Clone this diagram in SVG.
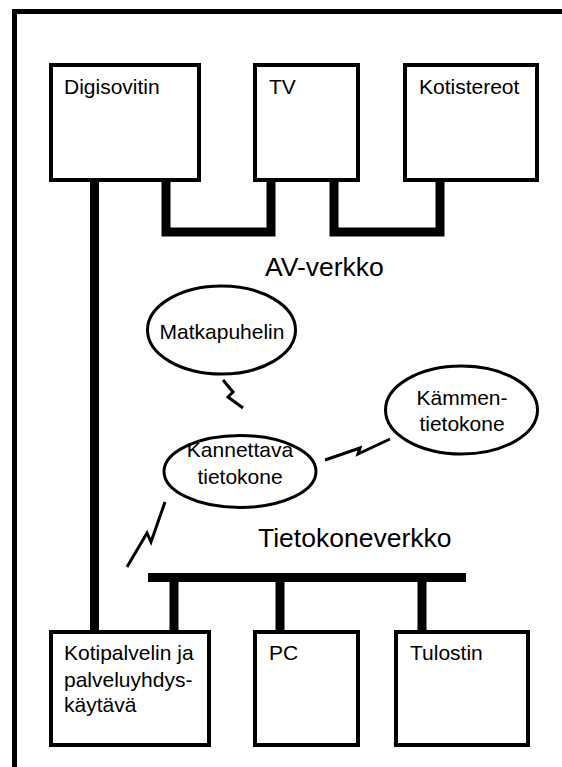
<svg xmlns="http://www.w3.org/2000/svg" width="562" height="767" viewBox="0 0 562 767">
  <style>
    .box { fill: #fff; stroke: #000; stroke-width: 4; }
    .oval { fill: #fff; stroke: #000; stroke-width: 3; }
    .lbl { font-family: "Liberation Sans", Arial, sans-serif; font-size: 21px; fill: #000; }
    .mid { text-anchor: middle; }
    .net { font-family: "Liberation Sans", Arial, sans-serif; font-size: 26.5px; fill: #000; }
    .cable { fill: none; stroke: #000; stroke-width: 9; stroke-linecap: butt; stroke-linejoin: miter; }
    .radio { fill: none; stroke: #000; stroke-width: 3; stroke-linejoin: miter; }
  </style>
  <rect width="562" height="767" fill="#fff"/>

  <!-- outer frame (open to the right and bottom) -->
  <path d="M14.5,767 V11.5 H562" fill="none" stroke="#000" stroke-width="5"/>

  <g id="connectors">
    <!-- AV links -->
    <path class="cable" d="M166,180 V232 H271 V180"/>
    <path class="cable" d="M334,180 V232 H440 V180"/>
    <!-- set-top box down to home server -->
    <path class="cable" d="M94.5,180 V632"/>
    <!-- computer network bus -->
    <path class="cable" d="M148,577.5 H466"/>
    <path class="cable" d="M174,577 V632"/>
    <path class="cable" d="M280,577 V632"/>
    <path class="cable" d="M422,577 V632"/>
    <!-- wireless links -->
    <polyline class="radio" points="223,380 233,392 228,397 243,408"/>
    <polyline class="radio" points="325,460 360,448 358,454 390,439"/>
    <polyline class="radio" points="127,567 147,533 151,542 165,502"/>
  </g>

  <text class="net" x="265" y="276">AV-verkko</text>
  <text class="net" x="258" y="547">Tietokoneverkko</text>

  <g id="digisovitin">
    <rect class="box" x="51" y="65" width="148" height="115"/>
    <text class="lbl" x="64" y="94">Digisovitin</text>
  </g>
  <g id="tv">
    <rect class="box" x="255" y="65" width="103" height="115"/>
    <text class="lbl" x="269" y="94">TV</text>
  </g>
  <g id="kotistereot">
    <rect class="box" x="405" y="65" width="132" height="115"/>
    <text class="lbl" x="419" y="94">Kotistereot</text>
  </g>

  <g id="matkapuhelin">
    <ellipse class="oval" cx="221.5" cy="330" rx="74" ry="44"/>
    <text class="lbl mid" x="222" y="339">Matkapuhelin</text>
  </g>
  <g id="kannettava">
    <ellipse class="oval" cx="240" cy="471.5" rx="76" ry="36"/>
    <text class="lbl mid" x="240" y="457">Kannettava</text>
    <text class="lbl mid" x="240" y="484">tietokone</text>
  </g>
  <g id="kammentietokone">
    <ellipse class="oval" cx="461.5" cy="410" rx="76" ry="44"/>
    <text class="lbl mid" x="462" y="405">Kämmen-</text>
    <text class="lbl mid" x="462" y="431">tietokone</text>
  </g>

  <g id="kotipalvelin">
    <rect class="box" x="51" y="632" width="158" height="113"/>
    <text class="lbl" x="64" y="660">Kotipalvelin ja</text>
    <text class="lbl" x="64" y="687">palveluyhdys-</text>
    <text class="lbl" x="64" y="712">käytävä</text>
  </g>
  <g id="pc">
    <rect class="box" x="255" y="632" width="103" height="113"/>
    <text class="lbl" x="269" y="660">PC</text>
  </g>
  <g id="tulostin">
    <rect class="box" x="396" y="632" width="132" height="113"/>
    <text class="lbl" x="410" y="660">Tulostin</text>
  </g>
</svg>
